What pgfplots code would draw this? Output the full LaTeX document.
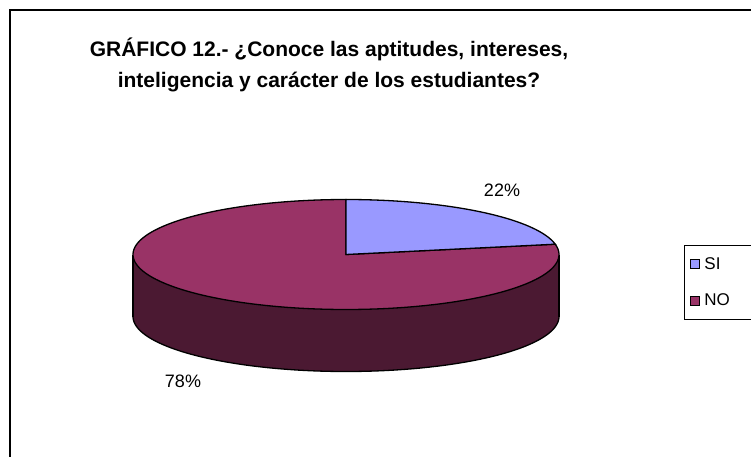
\documentclass[border=0pt]{standalone}
\usepackage{pgfplots}
\pgfplotsset{compat=1.18}
\usepackage{fontspec}
\setmainfont{Liberation Sans}
\definecolor{siC}{HTML}{9999FF}
\definecolor{noC}{HTML}{993366}
\definecolor{sideC}{HTML}{4B1932}
\def\valSI{22}
\def\valNO{78}
\begin{document}
\begin{tikzpicture}
\useasboundingbox (0,0) rectangle (751pt,457pt);
\clip (0,0) rectangle (751pt,457pt);
\begin{axis}[at={(0,0)}, anchor=south west, scale only axis,
  width=751pt, height=457pt, xmin=0, xmax=751, ymin=0, ymax=457,
  y dir=reverse, axis lines=none, clip=false,
  legend style={at={(axis cs:684,245)}, anchor=north west, draw=black,
    line width=1pt, fill=white, inner xsep=5pt, inner ysep=10pt,
    row sep=19pt, font=\fontsize{17}{19}\selectfont},
  legend cell align=left,
  legend image code/.code={\draw[#1, line width=0.8pt] (0pt,-4.5pt) rectangle (9pt,4.5pt); \path (12pt,0pt);}]
% outer border
\draw[line width=2pt] (axis cs:10,480) -- (axis cs:10,10) -- (axis cs:780,10);
% side (front) of the 3D pie
\addplot[forget plot, fill=sideC, draw=none, domain=180:360, samples=120]
  ({346+213*cos(x)},{316.5-55*sin(x)}) -- (axis cs:559,254.5) -- (axis cs:133,254.5) -- cycle;
\addplot[forget plot, draw=black, line width=1.3pt, domain=180:360, samples=120]
  ({346+213*cos(x)},{316.5-55*sin(x)});
\draw[line width=1.3pt] (axis cs:133,254.5) -- (axis cs:133,316.5);
\draw[line width=1.3pt] (axis cs:559,254.5) -- (axis cs:559,316.5);
% top: NO slice
\addplot[forget plot, fill=noC, draw=black, line width=1.3pt, domain=90:{90+3.6*\valNO}, samples=150]
  ({346+213*cos(x)},{254.5-55*sin(x)}) -- (axis cs:346,254.5) -- cycle;
% top: SI slice
\addplot[forget plot, fill=siC, draw=black, line width=1.3pt, domain={90-3.6*\valSI}:90, samples=80]
  ({346+213*cos(x)},{254.5-55*sin(x)}) -- (axis cs:346,254.5) -- cycle;
% labels
\node[font=\fontsize{18}{20}\selectfont] at (axis cs:502,190) {22\%};
\node[font=\fontsize{18}{20}\selectfont] at (axis cs:183,381) {78\%};
% title
\node[align=center, font=\bfseries\fontsize{21}{31}\selectfont] at (axis cs:329,65)
  {GRÁFICO 12.- ¿Conoce las aptitudes, intereses,\\ inteligencia y carácter de los estudiantes?};
% legend
\addlegendimage{fill=siC, draw=black}
\addlegendentry{SI\hspace*{60pt}}
\addlegendimage{fill=noC, draw=black}
\addlegendentry{NO\hspace*{60pt}}
\end{axis}
\end{tikzpicture}
\end{document}
